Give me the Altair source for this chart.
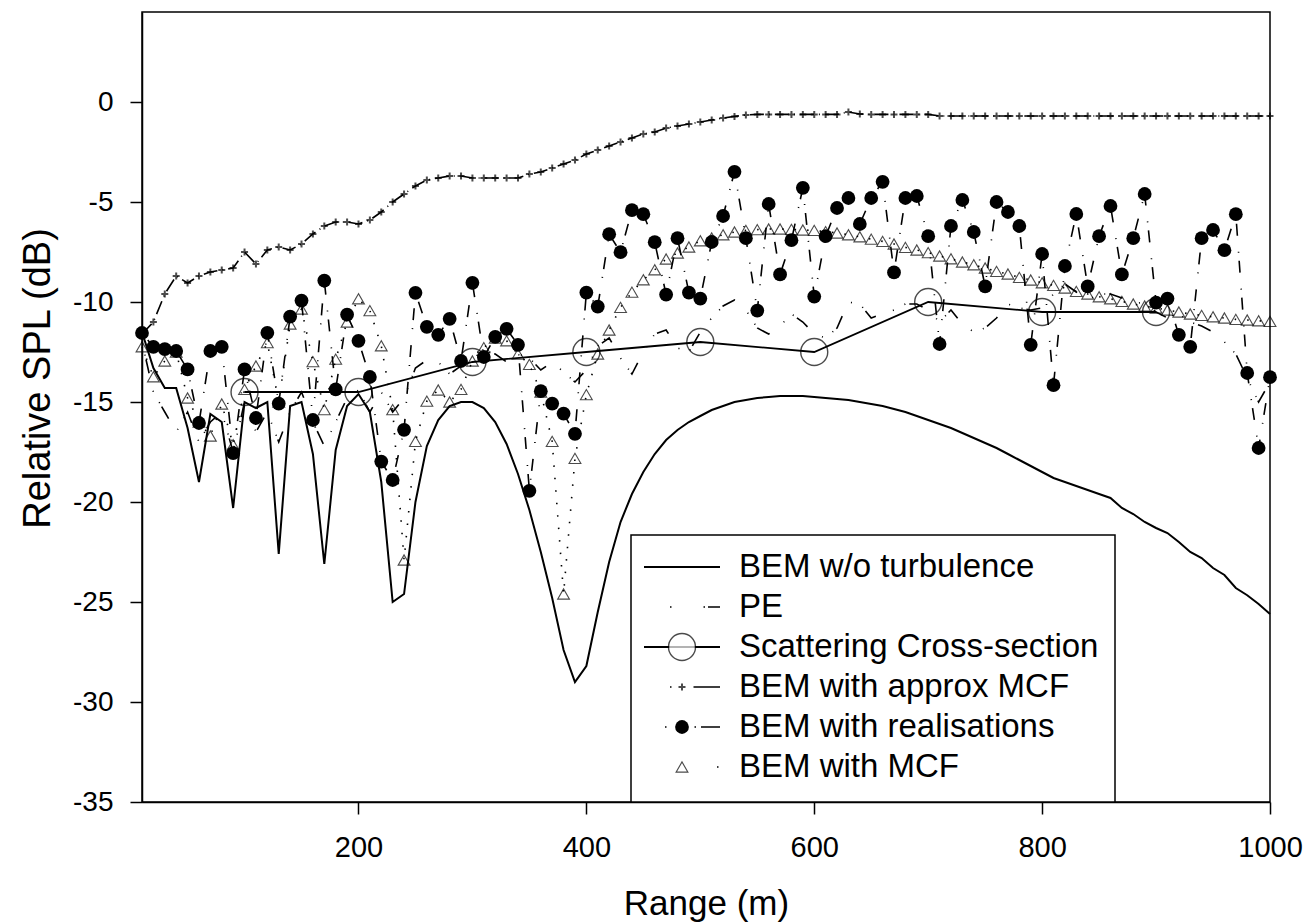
import altair as alt
import pandas as pd

# ---------------------------------------------------------------------------
# Data: relative SPL (dB) against range (m), sampled every 10 m
# ---------------------------------------------------------------------------
ranges = list(range(10, 1001, 10))

bem_no_turb = [
    -11.5, -13.3, -14.3, -14.3, -16.3, -19.0, -15.6, -16.0, -20.3, -15.0,
    -15.3, -15.0, -22.6, -15.2, -15.0, -17.6, -23.1, -17.4, -15.2, -14.6,
    -15.5, -19.0, -25.0, -24.6, -20.0, -17.2, -15.9, -15.2, -15.0, -15.0,
    -15.3, -16.0, -17.1, -18.6, -20.4, -22.5, -24.8, -27.4, -29.0, -28.2,
    -25.5, -23.0, -21.0, -19.6, -18.5, -17.6, -16.9, -16.4, -16.0, -15.7,
    -15.4, -15.2, -15.0, -14.9, -14.8, -14.75, -14.7, -14.7, -14.7, -14.75,
    -14.8, -14.85, -14.9, -15.0, -15.1, -15.2, -15.35, -15.5, -15.7, -15.9,
    -16.1, -16.3, -16.55, -16.8, -17.05, -17.3, -17.6, -17.9, -18.2, -18.5,
    -18.8, -19.0, -19.2, -19.4, -19.6, -19.8, -20.3, -20.6, -21.0, -21.3,
    -21.55, -22.0, -22.5, -22.8, -23.3, -23.65, -24.3, -24.66, -25.1, -25.6,
]

pe = [
    -12.0, -14.5, -15.5, -16.5, -15.5, -17.0, -16.0, -15.5, -17.5, -15.0,
    -16.5, -15.5, -17.0, -15.5, -14.5, -16.0, -17.2, -16.0, -14.8, -14.4,
    -15.5, -14.5, -15.5, -14.8, -13.3, -12.9, -13.0, -13.6, -13.2, -12.6,
    -12.4, -12.6, -13.0, -12.6, -12.8, -13.4, -13.0, -13.5, -14.0, -13.4,
    -12.2, -11.8, -12.8, -13.6, -12.5, -11.6, -11.4, -12.3, -12.5, -11.5,
    -10.8, -10.2, -9.9, -10.4, -11.3, -11.6, -11.2, -10.6, -11.0, -11.6,
    -11.8, -11.3, -10.0, -10.1, -10.8, -10.6, -10.4, -10.1, -10.1, -10.4,
    -11.0, -10.4, -11.1, -11.5, -11.3, -10.8, -10.1, -10.3, -10.4, -10.3,
    -9.6, -9.1, -9.5, -9.9, -9.6, -9.6, -9.8, -10.1, -10.0, -10.5,
    -10.8, -10.6, -11.0, -11.2, -11.5, -12.0, -12.6, -13.8, -15.0, -14.0,
]

approx_mcf = [
    -11.6, -11.0, -9.6, -8.7, -9.05, -8.7, -8.5, -8.4, -8.3, -7.5,
    -8.1, -7.4, -7.25, -7.4, -7.1, -6.6, -6.2, -6.0, -6.0, -6.1,
    -5.9, -5.5, -5.0, -4.6, -4.2, -3.9, -3.8, -3.7, -3.7, -3.8,
    -3.8, -3.8, -3.8, -3.8, -3.6, -3.5, -3.3, -3.1, -2.9, -2.6,
    -2.4, -2.2, -2.0, -1.8, -1.6, -1.5, -1.3, -1.2, -1.1, -1.0,
    -0.9, -0.8, -0.72, -0.65, -0.62, -0.62, -0.62, -0.62, -0.62, -0.62,
    -0.62, -0.62, -0.5, -0.6, -0.62, -0.62, -0.62, -0.62, -0.62, -0.62,
    -0.7, -0.7, -0.7, -0.7, -0.7, -0.7, -0.7, -0.7, -0.7, -0.7,
    -0.7, -0.7, -0.7, -0.7, -0.7, -0.7, -0.7, -0.7, -0.7, -0.7,
    -0.7, -0.7, -0.7, -0.7, -0.7, -0.7, -0.7, -0.7, -0.7, -0.7,
]

realisations = [
    -11.55, -12.24, -12.36, -12.45, -13.37, -16.05, -12.45, -12.24, -17.56, -13.37,
    -15.8, -11.54, -15.08, -10.73, -9.93, -15.9, -8.93, -14.37, -10.63, -11.94,
    -13.75, -17.98, -18.9, -16.39, -9.54, -11.24, -11.64, -10.84, -12.95, -9.04,
    -12.75, -11.74, -11.34, -12.14, -19.44, -14.46, -15.08, -15.58, -16.59, -9.53,
    -10.23, -6.61, -7.51, -5.41, -5.61, -7.01, -9.63, -6.81, -9.53, -9.83,
    -7.0, -5.7, -3.49, -6.81, -10.43, -5.1, -8.62, -6.91, -4.29, -9.73,
    -6.71, -5.3, -4.8, -6.1, -4.8, -3.99, -8.52, -4.8, -4.7, -6.71,
    -12.1, -6.2, -4.9, -6.5, -9.22, -5.0, -5.5, -6.2, -12.14, -7.6,
    -14.16, -8.2, -5.6, -9.22, -6.71, -5.2, -8.62, -6.81, -4.6, -10.03,
    -9.83, -11.64, -12.24, -6.81, -6.4, -7.41, -5.61, -13.55, -17.3, -13.76,
]

mcf = [
    -12.24, -13.74, -12.95, -12.5, -14.8, -16.0, -16.7, -15.1, -17.14, -14.37,
    -13.2, -12.03, -15.0, -11.1, -10.35, -12.98, -15.38, -12.86, -11.0, -9.84,
    -10.43, -12.19, -15.38, -22.9, -16.97, -14.96, -14.4, -15.0, -14.37, -12.95,
    -12.28, -11.8, -11.94, -12.61, -13.12, -14.5, -16.97, -24.6, -17.82, -14.63,
    -12.6, -11.4, -10.27, -9.51, -8.89, -8.39, -7.85, -7.55, -7.25, -6.94,
    -6.8, -6.64, -6.5, -6.42, -6.38, -6.35, -6.35, -6.37, -6.4, -6.42,
    -6.48, -6.55, -6.64, -6.74, -6.86, -6.97, -7.1, -7.27, -7.4, -7.53,
    -7.7, -7.84, -8.0, -8.14, -8.3, -8.47, -8.6, -8.77, -8.9, -9.04,
    -9.17, -9.3, -9.47, -9.6, -9.74, -9.84, -9.97, -10.1, -10.2, -10.3,
    -10.4, -10.5, -10.6, -10.67, -10.74, -10.8, -10.87, -10.9, -10.94, -10.97,
]

scs_range = [100, 200, 300, 400, 500, 600, 700, 800, 900]
scs = [-14.5, -14.5, -13.0, -12.5, -12.0, -12.5, -10.0, -10.5, -10.5]

legend_labels = [
    "BEM w/o turbulence",
    "PE",
    "Scattering Cross-section",
    "BEM with approx MCF",
    "BEM with realisations",
    "BEM with MCF",
]

x_ticks = [200, 400, 600, 800, 1000]
y_ticks = [-35, -30, -25, -20, -15, -10, -5, 0]

# ---------------------------------------------------------------------------
# Styling
# ---------------------------------------------------------------------------
FONT = "Liberation Sans"
W, H = 1128, 790
PLUS = "M-1,0L1,0M0,-1L0,1"
PLAIN = "'' + datum.value"  # plain hyphen, no thousands separator

DASH_PE = [1, 12, 1, 4, 14, 18]
DASH_APPROX = [14, 5, 1, 5]
DASH_REAL = [1, 8, 12, 16]
DASH_MCF = [1.5, 11]

x_scale = alt.Scale(domain=[10, 1000], nice=False, zero=False)
y_scale = alt.Scale(domain=[-35, 4.5], nice=False, zero=False)

x_axis = alt.Axis(
    values=x_ticks, title="Range (m)", grid=False, tickSize=12,
    labelFontSize=29, titleFontSize=35, labelPadding=19, labelExpr=PLAIN,
    titleY=101, titleBaseline="middle", labelFlush=False,
)
y_axis = alt.Axis(
    values=y_ticks, title="Relative SPL (dB)", grid=False, tickSize=12,
    labelFontSize=28, titleFontSize=38, labelPadding=17, labelExpr=PLAIN,
    titleX=-104, titleY=366, titleAngle=270, titleAlign="center",
    titleBaseline="middle", labelFlush=False,
)


def xy():
    return dict(
        x=alt.X("range:Q", scale=x_scale, axis=x_axis),
        y=alt.Y("spl:Q", scale=y_scale, axis=y_axis),
    )


def frame(values, xs=ranges):
    return pd.DataFrame({"range": xs, "spl": values})


df_bem = frame(bem_no_turb)
df_pe = frame(pe)
df_approx = frame(approx_mcf)
df_real = frame(realisations)
df_mcf = frame(mcf)
df_scs = frame(scs, scs_range)

bem_line = alt.Chart(df_bem).mark_line(color="black", strokeWidth=2).encode(**xy())
pe_line = alt.Chart(df_pe).mark_line(
    color="black", strokeWidth=1.6, strokeDash=DASH_PE
).encode(**xy())
scs_line = alt.Chart(df_scs).mark_line(color="black", strokeWidth=1.8).encode(**xy())
scs_pts = alt.Chart(df_scs).mark_point(
    shape="circle", size=729, filled=False, color="black", strokeWidth=1.4
).encode(**xy())
approx_line = alt.Chart(df_approx).mark_line(
    color="black", strokeWidth=1.6, strokeDash=DASH_APPROX
).encode(**xy())
approx_pts = alt.Chart(df_approx).mark_point(
    shape=PLUS, size=49, filled=False, color="black", strokeWidth=2
).encode(**xy())
real_line = alt.Chart(df_real).mark_line(
    color="black", strokeWidth=1.6, strokeDash=DASH_REAL
).encode(**xy())
real_pts = alt.Chart(df_real).mark_point(
    shape="circle", size=190, filled=True, color="black", opacity=1
).encode(**xy())
mcf_line = alt.Chart(df_mcf).mark_line(
    color="black", strokeWidth=1.6, strokeDash=DASH_MCF
).encode(**xy())
mcf_pts = alt.Chart(df_mcf).mark_point(
    shape="triangle-up", size=140, filled=False, color="black", strokeWidth=1.1
).encode(**xy())

# ---------------------------------------------------------------------------
# Legend box (inside the plot, lower right)
# ---------------------------------------------------------------------------
LX0, LX1, LY0, LY1 = 489, 973, 523, H
ROW0, ROW_STEP = 555, 40
SYM0, SYM1, SYMC, TXT = 502, 578, 540, 597
one = pd.DataFrame({"k": [0]})


def row_y(i):
    return ROW0 + ROW_STEP * i


legend_box = alt.Chart(one).mark_rect(
    fill="white", stroke="black", strokeWidth=1.5
).encode(x=alt.value(LX0), x2=alt.value(LX1), y=alt.value(LY0), y2=alt.value(LY1))

legend_df = pd.DataFrame({
    "label": legend_labels,
    "ypix": [row_y(i) for i in range(len(legend_labels))],
})
legend_text = alt.Chart(legend_df).mark_text(
    align="left", baseline="middle", fontSize=33, font=FONT, color="black"
).encode(
    x=alt.value(TXT),
    y=alt.Y("ypix:Q", scale=None),
    text="label:N",
)


def seg(i, dash=None, width=1.5):
    kw = dict(color="black", strokeWidth=width)
    if dash:
        kw["strokeDash"] = dash
    return alt.Chart(one).mark_rule(**kw).encode(
        x=alt.value(SYM0), x2=alt.value(SYM1), y=alt.value(row_y(i))
    )


def sym(i, **kw):
    return alt.Chart(one).mark_point(**kw).encode(
        x=alt.value(SYMC), y=alt.value(row_y(i))
    )


# legend samples: short swatches of each line pattern
legend_layers = [
    legend_box,
    seg(0, width=2),
    seg(1, [0, 26, 1.5, 32, 1.5, 3, 13, 100], width=1.6),
    seg(2, width=1.8),
    sym(2, shape="circle", size=729, filled=True, fill="white", stroke="black", strokeWidth=1.4),
    seg(3, [0, 26, 1.5, 22, 27, 100], width=1.6),
    sym(3, shape=PLUS, size=49, filled=False, color="black", strokeWidth=2),
    seg(4, [0, 21, 1.5, 28, 1.5, 5, 20, 100], width=1.6),
    sym(4, shape="circle", size=190, filled=True, color="black", opacity=1),
    seg(5, [0, 73, 1.5, 100], width=1.6),
    sym(5, shape="triangle-up", size=140, filled=False, color="black", strokeWidth=1.1),
    legend_text,
]

chart = alt.layer(
    bem_line, pe_line, scs_line, scs_pts, approx_line, approx_pts,
    real_line, real_pts, mcf_line, mcf_pts, *legend_layers,
).properties(
    width=W, height=H,
    autosize=alt.AutoSizeParams(type="none"),
    padding={"left": 142, "top": 12, "right": 40, "bottom": 121},
    background="white",
).configure_view(
    stroke="black", strokeWidth=1.5,
).configure_axis(
    domainColor="black", domainWidth=1.5, tickColor="black", tickWidth=1.5,
    labelColor="black", titleColor="black", labelFont=FONT, titleFont=FONT,
    titleFontWeight="normal",
)

chart.save("out.html", embed_options={"renderer": "svg", "actions": False})
